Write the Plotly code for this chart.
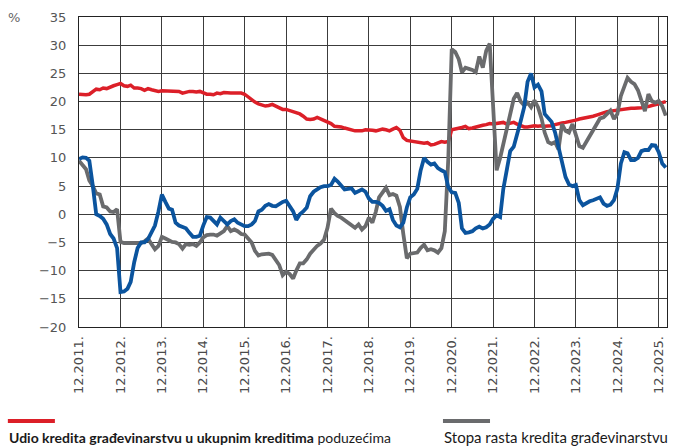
import pandas as pd
import plotly.graph_objects as go

# Monthly data, Dec 2011 .. Feb 2026
start_month = "2011-12-01"

share_of_loans = [  # Udio kredita građevinarstvu u ukupnim kreditima poduzećima (red)
    21.3, 21.2, 21.2, 21.3, 21.7, 22.2, 22.1, 22.4, 22.3, 22.6, 22.8, 23.0,
    23.2, 22.8, 22.7, 22.9, 22.4, 22.4, 22.3, 22.0, 22.3, 22.1, 21.9, 21.8,
    21.9, 21.9, 21.8, 21.8, 21.9, 21.8, 21.5, 21.7, 21.8, 21.8, 21.7, 21.8,
    21.6, 21.3, 21.3, 21.2, 21.5, 21.4, 21.6, 21.5, 21.5, 21.5, 21.5, 21.5,
    21.3, 20.8, 20.2, 19.9, 19.6, 19.4, 19.2, 19.3, 19.5, 19.2, 18.9, 18.6,
    18.6, 18.4, 18.2, 18.1, 17.8, 17.4, 16.9, 16.8, 16.9, 17.2, 16.9, 16.7,
    16.4, 16.1, 15.6, 15.6, 15.5, 15.3, 15.1, 14.9, 14.8, 14.8, 14.8, 15.0,
    15.0, 14.9, 14.8, 14.9, 15.1, 15.0, 14.8, 15.1, 15.4, 14.9, 13.6, 13.1,
    13.0, 12.9, 12.8, 12.7, 12.6, 12.7, 12.3, 12.4, 12.7, 12.9, 12.8, 12.9,
    15.0, 15.1, 15.2, 15.4, 15.6, 15.2, 15.3, 15.5, 15.6, 15.8, 15.9, 16.1,
    16.0, 16.1, 16.2, 16.3, 16.0, 16.1, 16.3, 16.0, 15.8, 15.5, 15.5, 15.6,
    15.7, 15.6, 15.7, 15.6, 15.6, 15.7, 15.9, 16.1, 16.2, 16.3, 16.4, 16.6,
    16.7, 16.9, 17.0, 17.2, 17.3, 17.4, 17.6, 17.8, 18.1, 18.2, 18.3, 18.4,
    18.5, 18.5, 18.6, 18.7, 18.8, 18.8, 18.8, 18.9, 19.1, 19.1, 19.3, 19.4,
    19.6, 19.8, 20.0,
]

growth_construction = [  # Stopa rasta kredita građevinarstvu (grey)
    9.5, 8.7, 8.0, 6.0, 5.0, 3.7, 3.5, 1.4, 1.2, 0.5, 0.4, 0.9,
    -4.9, -5.1, -5.1, -5.1, -5.1, -5.2, -5.1, -4.8, -4.3, -5.3, -6.2, -5.6,
    -4.0, -4.3, -4.7, -4.9, -5.0, -5.3, -6.1, -5.3, -5.4, -5.3, -5.6, -5.0,
    -4.1, -3.7, -3.6, -3.6, -3.8, -3.3, -3.0, -2.1, -3.0, -2.7, -3.0, -3.5,
    -3.6, -4.3, -5.0, -6.5, -7.3, -7.1, -7.1, -7.0, -7.2, -8.0, -9.0, -10.8,
    -10.2, -10.6, -11.4, -10.0, -8.7, -8.7, -8.0, -7.0, -6.2, -5.6, -5.2, -4.5,
    -2.4, 1.0, 0.2, -0.3, -0.6, -1.0, -1.4, -1.8, -2.4, -1.8, -2.7, -2.1,
    -0.6, -1.5, 0.5, 3.0, 4.0, 4.7, 3.4, 3.6, 3.3, 1.3, -3.5, -7.8,
    -7.0, -6.9, -6.8, -6.0, -5.4, -6.4, -6.2, -6.4, -6.8, -6.0, -3.0, 10.0,
    29.3, 28.8, 27.5, 25.2, 26.0, 25.8, 25.6, 25.2, 28.0, 26.0, 29.0, 30.3,
    20.0, 7.8, 10.0, 12.5, 15.5, 17.5, 20.5, 21.5, 20.0, 19.3, 19.8, 19.0,
    20.2, 19.0, 17.0, 14.5, 12.8, 12.5, 12.8, 11.5, 16.0, 14.8, 14.5, 16.0,
    14.2, 12.1, 11.8, 12.8, 14.0, 15.2, 16.2, 17.0, 17.2, 17.8, 18.4, 16.9,
    17.8, 21.0, 22.8, 24.2, 23.5, 23.1, 22.0, 20.0, 18.3, 21.3, 20.1, 19.8,
    20.1, 19.2, 17.5,
]

blue_series = [  # third series (blue), no legend entry visible
    9.8, 10.1, 10.0, 9.5, 5.0, 0.0, -0.3, -0.8, -1.8, -3.5, -4.3, -6.0,
    -13.8, -13.7, -13.2, -12.0, -8.5, -6.0, -5.0, -5.0, -4.4, -3.0, -2.0, 0.5,
    3.5, 2.2, 1.0, 0.8, -1.5, -2.0, -2.2, -2.5, -3.3, -4.0, -4.0, -3.8,
    -2.0, -0.5, -0.6, -1.2, -1.8, -0.6, -1.2, -1.8, -1.2, -0.9, -1.5, -1.8,
    -2.1, -2.1, -1.8, -1.2, 0.5, 0.8, 1.5, 1.8, 1.5, 1.4, 1.8, 2.2,
    2.4, 1.5, 0.5, -1.0, 0.0, 0.5, 1.2, 3.2, 4.0, 4.4, 4.8, 5.0,
    5.0, 5.2, 6.3, 5.8, 5.0, 4.4, 4.5, 4.6, 3.8, 4.2, 4.4, 4.0,
    2.8, 2.2, 2.2, 2.0, 1.5, 0.6, 0.9, -1.0, -2.0, -2.3, -1.5, 1.2,
    3.0, 3.5, 4.5, 7.7, 10.0, 9.3, 8.8, 9.0, 8.2, 7.8, 7.5, 4.8,
    3.9, 3.8, 2.0, -2.5, -3.3, -3.2, -3.0, -2.5, -2.2, -2.5, -2.3, -1.8,
    -0.8, -0.2, -0.5, 4.5, 8.0, 11.2, 12.0, 14.0, 16.5, 19.0, 23.5, 25.0,
    22.5, 23.0, 21.8, 17.8, 17.0, 16.4, 14.5, 12.0, 9.8, 6.6, 5.3, 5.0,
    5.2, 2.5, 1.6, 2.0, 2.3, 2.5, 2.7, 3.0, 1.9, 1.5, 1.7, 2.5,
    4.5, 9.0, 11.0, 10.8, 9.6, 9.6, 10.0, 11.2, 11.4, 11.4, 12.3, 12.2,
    11.0, 9.0, 8.3,
]

tick_years = list(range(2011, 2026))
tick_labels = [f"12.{y}." for y in tick_years]
y_ticks = list(range(-20, 36, 5))

legend_red = "<b>Udio kredita građevinarstvu u ukupnim kreditima</b> poduzećima"
legend_grey = "Stopa rasta kredita građevinarstvu"

RED = "#dc1f28"
GREY = "#6a6b6d"
BLUE = "#0b549e"

dates = pd.date_range(start_month, periods=len(share_of_loans), freq="MS")
tick_vals = [pd.Timestamp(f"{y}-12-01") for y in tick_years]

fig = go.Figure()
fig.add_trace(go.Scatter(x=dates, y=share_of_loans, mode="lines",
                         line=dict(color=RED, width=3.5), name=legend_red, showlegend=False))
fig.add_trace(go.Scatter(x=dates, y=growth_construction, mode="lines",
                         line=dict(color=GREY, width=3.8), name=legend_grey, showlegend=False))
fig.add_trace(go.Scatter(x=dates, y=blue_series, mode="lines",
                         line=dict(color=BLUE, width=3.8), showlegend=False))

fig.update_layout(
    width=677, height=447,
    margin=dict(l=79, r=10, t=17, b=120, autoexpand=False),
    paper_bgcolor="white", plot_bgcolor="white",
    font=dict(family="DejaVu Sans, Verdana, sans-serif", size=13, color="#555555"),
    showlegend=False,
)
fig.update_xaxes(
    type="date", automargin=False,
    range=[pd.Timestamp("2011-12-01"), pd.Timestamp("2026-02-12")],
    tickvals=tick_vals, ticktext=tick_labels, tickangle=-90,
    showgrid=True, gridcolor="#3c3c3c", gridwidth=1,
    showline=True, linecolor="#222222", linewidth=1, mirror=True,
    ticks="", ticklabelstandoff=3,
    tickfont=dict(size=13, color="#4a4a4a"),
    zeroline=False,
)
fig.update_yaxes(
    range=[-20, 35], tickvals=y_ticks, automargin=False,
    showgrid=True, gridcolor="#3c3c3c", gridwidth=1,
    showline=True, linecolor="#222222", linewidth=1, mirror=True,
    ticks="", ticklabelstandoff=9,
    tickfont=dict(size=13, color="#555555"),
    zeroline=False,
)

# percent unit label
fig.add_annotation(xref="paper", yref="paper", x=-0.11, y=1.0, text="%",
                   showarrow=False, xanchor="center", yanchor="middle",
                   font=dict(size=13, color="#666666"))

# custom legend: line swatch above text
legend_font = "Lato, sans-serif"
fig.add_shape(type="line", xref="paper", yref="paper",
              x0=-0.121, x1=-0.041, y0=-0.303, y1=-0.303,
              line=dict(color=RED, width=4))
fig.add_shape(type="line", xref="paper", yref="paper",
              x0=0.619, x1=0.699, y0=-0.303, y1=-0.303,
              line=dict(color=GREY, width=4))
fig.add_annotation(xref="paper", yref="paper", x=-0.123, y=-0.355, text=legend_red,
                   showarrow=False, xanchor="left", yanchor="middle",
                   font=dict(family=legend_font, size=14, color="#1a1a1a"))
fig.add_annotation(xref="paper", yref="paper", x=0.617, y=-0.355, text=legend_grey,
                   showarrow=False, xanchor="left", yanchor="middle",
                   font=dict(family=legend_font, size=15, color="#1a1a1a"))

fig.write_html("out.html", config={"displayModeBar": False},
               post_script="document.body.style.margin='0px';")
